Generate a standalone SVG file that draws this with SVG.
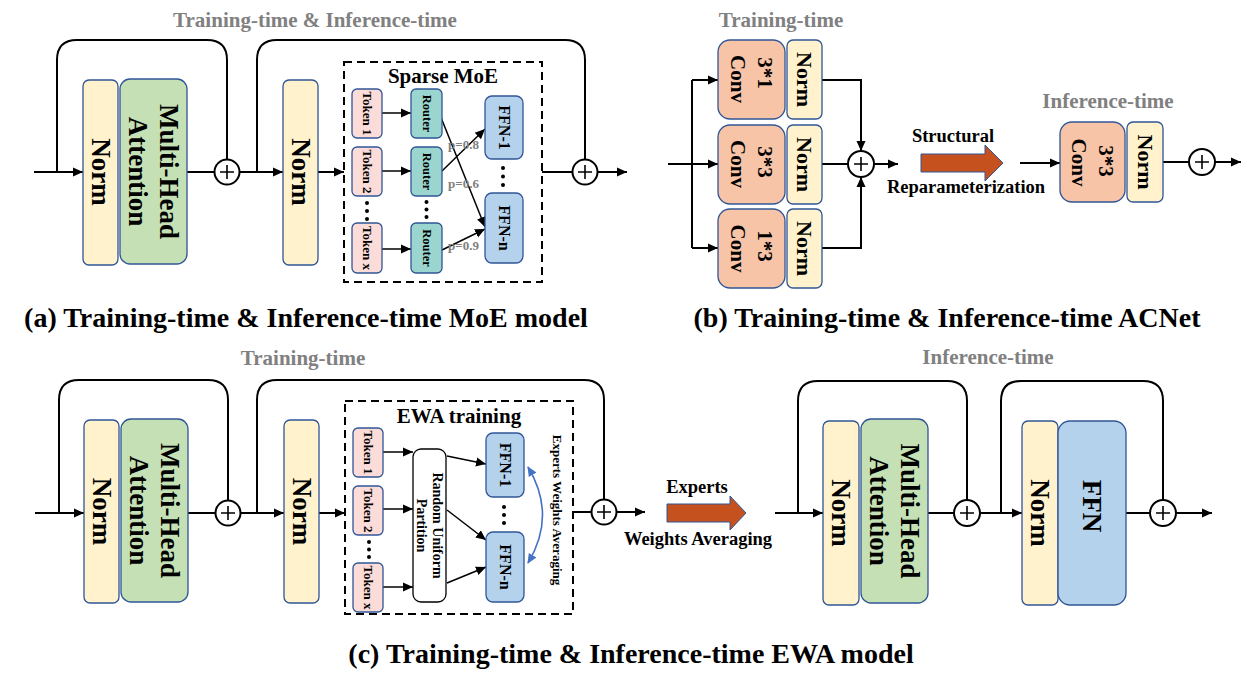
<svg xmlns="http://www.w3.org/2000/svg" width="1259" height="678" viewBox="0 0 1259 678">
<defs>
<marker id="ah" viewBox="0 0 10 10" refX="10" refY="5" markerWidth="10" markerHeight="10" markerUnits="userSpaceOnUse" orient="auto"><path d="M0,0.5 L10,5 L0,9.5 z" fill="#000"/></marker>
<marker id="ahb" viewBox="0 0 10 10" refX="9" refY="5" markerWidth="10" markerHeight="10" markerUnits="userSpaceOnUse" orient="auto-start-reverse"><path d="M0,0.5 L10,5 L0,9.5 z" fill="#4472c4"/></marker>
<style>
text{font-family:"Liberation Serif","Times New Roman",serif;font-weight:bold;fill:#000}
.c{text-anchor:middle;dominant-baseline:central}
.gray{fill:#808080}
.title{font-size:21px;text-anchor:middle}
.cap{font-size:28px;text-anchor:middle}
.lbl{font-size:18.5px;text-anchor:middle}
.big{font-size:27px}
.mid{font-size:22px}
.conv{font-size:21px}
.sm{font-size:13px}
.rtt{font-size:12.5px}
.ffn{font-size:16px}
.rup{font-size:14px}
.ewa{font-size:13px}
.p{font-size:13px;fill:#808080}
.norm{fill:#fff2cc;stroke:#2f5597;stroke-width:1.3}
.mha{fill:#c5e0b4;stroke:#2f5597;stroke-width:1.3}
.cv{fill:#f8c4a8;stroke:#2f5597;stroke-width:1.3}
.ff{fill:#b4d2ec;stroke:#2f5597;stroke-width:1.3}
.tok{fill:#fbdcd8;stroke:#2f5597;stroke-width:1.3}
.rt{fill:#9ad6cf;stroke:#2f5597;stroke-width:1.3}
.rp{fill:#fff;stroke:#000;stroke-width:1.3}
.dash{fill:none;stroke:#000;stroke-width:2;stroke-dasharray:8 5}
.ln{fill:none;stroke:#000;stroke-width:2}
.arr{fill:none;stroke:#000;stroke-width:2;marker-end:url(#ah)}
.arr1{fill:none;stroke:#000;stroke-width:1.5;marker-end:url(#ah)}
.add circle{fill:#fff;stroke:#000;stroke-width:2}
.add path{stroke:#000;stroke-width:1.6}
.blk{fill:#c5511f;stroke:#2f5597;stroke-width:1}
.dot{fill:#000}
</style>
</defs>

<!-- Titles -->
<text class="title gray" x="315" y="27">Training-time &amp; Inference-time</text>
<text class="title gray" x="781" y="27">Training-time</text>
<text class="title gray" x="1108" y="108">Inference-time</text>
<text class="title gray" x="303" y="365">Training-time</text>
<text class="title gray" x="988" y="364">Inference-time</text>

<!-- Captions -->
<text class="cap" x="306" y="327">(a) Training-time &amp; Inference-time MoE model</text>
<text class="cap" x="947" y="327">(b) Training-time &amp; Inference-time ACNet</text>
<text class="cap" x="631" y="663">(c) Training-time &amp; Inference-time EWA model</text>

<!-- Connectors -->
<g id="connectors">
  <!-- (a) -->
  <path class="arr" d="M34 172 H83"/>
  <path class="ln" d="M57 172 V60 Q57 40 77 40 H207 Q227 40 227 60 V159"/>
  <path class="ln" d="M187 172 H215"/>
  <path class="arr" d="M240 172 H283"/>
  <path class="ln" d="M257 172 V60 Q257 40 277 40 H565 Q585 40 585 60 V159"/>
  <path class="arr" d="M318 172 H344"/>
  <path class="ln" d="M542 172 H572"/>
  <path class="arr" d="M598 172 H627"/>
  <path class="arr1" d="M382 113 H411"/>
  <path class="arr1" d="M382 171 H411"/>
  <path class="arr1" d="M382 249 H411"/>
  <path class="arr1" d="M440 115 L485 227"/>
  <path class="arr1" d="M442 171 L485 129"/>
  <path class="arr1" d="M442 250 L485 229"/>
  <!-- (b) -->
  <path class="arr" d="M668 164 H718"/>
  <path class="ln" d="M692 80 V248"/>
  <path class="arr" d="M692 80 H718"/>
  <path class="arr" d="M692 248 H718"/>
  <path class="arr" d="M822 80 H861 V151"/>
  <path class="arr" d="M822 248 H861 V177"/>
  <path class="ln" d="M822 164 H848"/>
  <path class="arr" d="M874 164 H898"/>
  <path class="arr" d="M1020 163 H1060"/>
  <path class="ln" d="M1163 162 H1189"/>
  <path class="arr" d="M1215 162 H1241"/>
  <!-- (c) left -->
  <path class="arr" d="M35 513 H84"/>
  <path class="ln" d="M59 513 V400 Q59 380 79 380 H208 Q228 380 228 400 V500"/>
  <path class="ln" d="M188 513 H215"/>
  <path class="arr" d="M241 513 H284"/>
  <path class="ln" d="M257 513 V400 Q257 380 277 380 H584 Q604 380 604 400 V499"/>
  <path class="arr" d="M319 513 H345"/>
  <path class="ln" d="M573 512 H591"/>
  <path class="arr" d="M617 512 H645"/>
  <path class="arr1" d="M383 452 H413"/>
  <path class="arr1" d="M383 509 H413"/>
  <path class="arr1" d="M383 587 H413"/>
  <path class="arr1" d="M447 456 L486 464"/>
  <path class="arr1" d="M447 510 L486 540"/>
  <path class="arr1" d="M447 583 L486 567"/>
  <path d="M528 467 Q557 515 528 563" fill="none" stroke="#4472c4" stroke-width="1.6" marker-start="url(#ahb)" marker-end="url(#ahb)"/>
  <!-- (c) right -->
  <path class="arr" d="M775 513 H823"/>
  <path class="ln" d="M798 513 V401 Q798 381 818 381 H947 Q967 381 967 401 V500"/>
  <path class="ln" d="M928 513 H954"/>
  <path class="arr" d="M980 513 H1022"/>
  <path class="ln" d="M1001 513 V401 Q1001 381 1021 381 H1143 Q1163 381 1163 401 V500"/>
  <path class="ln" d="M1126 513 H1150"/>
  <path class="arr" d="M1176 513 H1212"/>
</g>

<!-- (a) nodes -->
<g id="a-norm1"><rect class="norm" x="83" y="80" width="35" height="185" rx="6"/><text class="c big" transform="translate(100.5,172) rotate(90)">Norm</text></g>
<g id="a-mha"><rect class="mha" x="120" y="79" width="67" height="185" rx="10"/><text class="c big" transform="translate(168.5,171.5) rotate(90)">Multi-Head</text><text class="c big" transform="translate(137.5,171.5) rotate(90)">Attention</text></g>
<g id="a-add1" class="add"><circle cx="227" cy="172" r="12.5"/><path d="M220 172 H234 M227 165 V179"/></g>
<g id="a-norm2"><rect class="norm" x="283" y="80" width="35" height="185" rx="6"/><text class="c big" transform="translate(300.5,172) rotate(90)">Norm</text></g>
<g id="a-moe"><rect class="dash" x="344" y="62" width="198" height="220"/><text x="443" y="83" font-size="21" text-anchor="middle">Sparse MoE</text></g>
<g id="a-tok1"><rect class="tok" x="352" y="89" width="30" height="49" rx="5"/><text class="c sm" transform="translate(367,113.5) rotate(90)">Token 1</text></g>
<g id="a-tok2"><rect class="tok" x="352" y="147" width="30" height="49" rx="5"/><text class="c sm" transform="translate(367,171.5) rotate(90)">Token 2</text></g>
<g id="a-tokx"><rect class="tok" x="352" y="223" width="30" height="50" rx="5"/><text class="c sm" transform="translate(367,248) rotate(90)">Token x</text></g>
<g id="a-r1"><rect class="rt" x="411" y="89" width="31" height="49" rx="5"/><text class="c rtt" transform="translate(426.5,113.5) rotate(90)">Router</text></g>
<g id="a-r2"><rect class="rt" x="411" y="147" width="31" height="49" rx="5"/><text class="c rtt" transform="translate(426.5,171.5) rotate(90)">Router</text></g>
<g id="a-rx"><rect class="rt" x="411" y="223" width="31" height="50" rx="5"/><text class="c rtt" transform="translate(426.5,248) rotate(90)">Router</text></g>
<g id="a-ffn1"><rect class="ff" x="485" y="96" width="38" height="63" rx="7"/><text class="c ffn" transform="translate(504,127.5) rotate(90)">FFN-1</text></g>
<g id="a-ffnn"><rect class="ff" x="485" y="193" width="38" height="70" rx="7"/><text class="c ffn" transform="translate(504,228) rotate(90)">FFN-n</text></g>
<g id="a-dots">
  <circle class="dot" cx="367" cy="203" r="2"/><circle class="dot" cx="367" cy="211" r="2"/><circle class="dot" cx="367" cy="219" r="2"/>
  <circle class="dot" cx="426.5" cy="202" r="2"/><circle class="dot" cx="426.5" cy="209.5" r="2"/><circle class="dot" cx="426.5" cy="217" r="2"/>
  <circle class="dot" cx="503" cy="168" r="2"/><circle class="dot" cx="503" cy="176.5" r="2"/><circle class="dot" cx="503" cy="185" r="2"/>
</g>
<g id="a-probs"><text class="p" x="448" y="149">p=0.8</text><text class="p" x="448" y="188">p=0.6</text><text class="p" x="448" y="250">p=0.9</text></g>
<g id="a-add2" class="add"><circle cx="585" cy="172" r="12.5"/><path d="M578 172 H592 M585 165 V179"/></g>

<!-- (b) nodes -->
<g id="b-conv1"><rect class="cv" x="718" y="40" width="67" height="79" rx="12"/><text class="c conv" transform="translate(765,73) rotate(90)">3*1</text><text class="c conv" transform="translate(738,79) rotate(90)">Conv</text></g>
<g id="b-norm1"><rect class="norm" x="787" y="40" width="35" height="79" rx="6"/><text class="c mid" transform="translate(804.5,79.5) rotate(90)">Norm</text></g>
<g id="b-conv2"><rect class="cv" x="718" y="125" width="67" height="79" rx="12"/><text class="c conv" transform="translate(765,162) rotate(90)">3*3</text><text class="c conv" transform="translate(738,164) rotate(90)">Conv</text></g>
<g id="b-norm2"><rect class="norm" x="787" y="125" width="35" height="79" rx="6"/><text class="c mid" transform="translate(804.5,164.5) rotate(90)">Norm</text></g>
<g id="b-conv3"><rect class="cv" x="718" y="209" width="67" height="79" rx="12"/><text class="c conv" transform="translate(765,246) rotate(90)">1*3</text><text class="c conv" transform="translate(738,248.5) rotate(90)">Conv</text></g>
<g id="b-norm3"><rect class="norm" x="787" y="209" width="35" height="79" rx="6"/><text class="c mid" transform="translate(804.5,248.5) rotate(90)">Norm</text></g>
<g id="b-add" class="add"><circle cx="861" cy="164" r="13"/><path d="M854 164 H868 M861 157 V171"/></g>
<g id="b-reparam"><polygon class="blk" points="921,154 985,154 985,145 1003,163 985,181 985,172 921,172"/><text class="lbl" x="953" y="142">Structural</text><text class="lbl" x="966" y="193">Reparameterization</text></g>
<g id="b-conv-inf"><rect class="cv" x="1060" y="122" width="65" height="80" rx="12"/><text class="c conv" transform="translate(1105.5,161) rotate(90)">3*3</text><text class="c conv" transform="translate(1078.5,162.5) rotate(90)">Conv</text></g>
<g id="b-norm-inf"><rect class="norm" x="1127" y="122" width="36" height="80" rx="6"/><text class="c mid" transform="translate(1145,162) rotate(90)">Norm</text></g>
<g id="b-add-inf" class="add"><circle cx="1202" cy="162" r="13"/><path d="M1195 162 H1209 M1202 155 V169"/></g>

<!-- (c) training nodes -->
<g id="c-norm1"><rect class="norm" x="84" y="420" width="35" height="183" rx="6"/><text class="c big" transform="translate(101.5,511.5) rotate(90)">Norm</text></g>
<g id="c-mha"><rect class="mha" x="121" y="419" width="67" height="183" rx="10"/><text class="c big" transform="translate(169.5,510.5) rotate(90)">Multi-Head</text><text class="c big" transform="translate(138.5,510.5) rotate(90)">Attention</text></g>
<g id="c-add1" class="add"><circle cx="228" cy="513" r="12.5"/><path d="M221 513 H235 M228 506 V520"/></g>
<g id="c-norm2"><rect class="norm" x="284" y="420" width="35" height="183" rx="6"/><text class="c big" transform="translate(301.5,511.5) rotate(90)">Norm</text></g>
<g id="c-ewa"><rect class="dash" x="345" y="401" width="228" height="213"/><text x="459" y="423" font-size="21" text-anchor="middle">EWA training</text></g>
<g id="c-tok1"><rect class="tok" x="353" y="428" width="30" height="49" rx="5"/><text class="c sm" transform="translate(368,452.5) rotate(90)">Token 1</text></g>
<g id="c-tok2"><rect class="tok" x="353" y="486" width="30" height="49" rx="5"/><text class="c sm" transform="translate(368,510.5) rotate(90)">Token 2</text></g>
<g id="c-tokx"><rect class="tok" x="353" y="563" width="30" height="49" rx="5"/><text class="c sm" transform="translate(368,587.5) rotate(90)">Token x</text></g>
<g id="c-rup"><rect class="rp" x="413" y="449" width="33" height="153" rx="8"/><text class="c rup" transform="translate(437,525.5) rotate(90)">Random Uniform</text><text class="c rup" transform="translate(421.5,525.5) rotate(90)">Partition</text></g>
<g id="c-ffn1"><rect class="ff" x="486" y="433" width="38" height="64" rx="7"/><text class="c ffn" transform="translate(505,465) rotate(90)">FFN-1</text></g>
<g id="c-ffnn"><rect class="ff" x="486" y="532" width="38" height="70" rx="7"/><text class="c ffn" transform="translate(505,567) rotate(90)">FFN-n</text></g>
<g id="c-dots">
  <circle class="dot" cx="369" cy="542" r="2"/><circle class="dot" cx="369" cy="549.5" r="2"/><circle class="dot" cx="369" cy="557" r="2"/>
  <circle class="dot" cx="504" cy="507" r="2"/><circle class="dot" cx="504" cy="515" r="2"/><circle class="dot" cx="504" cy="523" r="2"/>
</g>
<g id="c-ewa-label"><text class="c ewa" transform="translate(557,510) rotate(90)">Experts Weights Averaging</text></g>
<g id="c-add2" class="add"><circle cx="604" cy="512" r="12.5"/><path d="M597 512 H611 M604 505 V519"/></g>
<g id="c-merge"><polygon class="blk" points="667,504 730,504 730,496 746,513 730,530 730,522 667,522"/><text class="lbl" x="697" y="493">Experts</text><text class="lbl" x="698" y="545">Weights Averaging</text></g>

<!-- (c) inference nodes -->
<g id="ci-norm1"><rect class="norm" x="823" y="421" width="36" height="184" rx="6"/><text class="c big" transform="translate(841,513) rotate(90)">Norm</text></g>
<g id="ci-mha"><rect class="mha" x="861" y="419" width="67" height="184" rx="10"/><text class="c big" transform="translate(910,511) rotate(90)">Multi-Head</text><text class="c big" transform="translate(879,511) rotate(90)">Attention</text></g>
<g id="ci-add1" class="add"><circle cx="967" cy="513" r="13"/><path d="M960 513 H974 M967 506 V520"/></g>
<g id="ci-norm2"><rect class="norm" x="1022" y="421" width="36" height="184" rx="6"/><text class="c big" transform="translate(1040,513) rotate(90)">Norm</text></g>
<g id="ci-ffn"><rect class="ff" x="1058" y="421" width="68" height="184" rx="12"/><text class="c big" transform="translate(1092,506) rotate(90)">FFN</text></g>
<g id="ci-add2" class="add"><circle cx="1163" cy="513" r="13"/><path d="M1156 513 H1170 M1163 506 V520"/></g>
</svg>
